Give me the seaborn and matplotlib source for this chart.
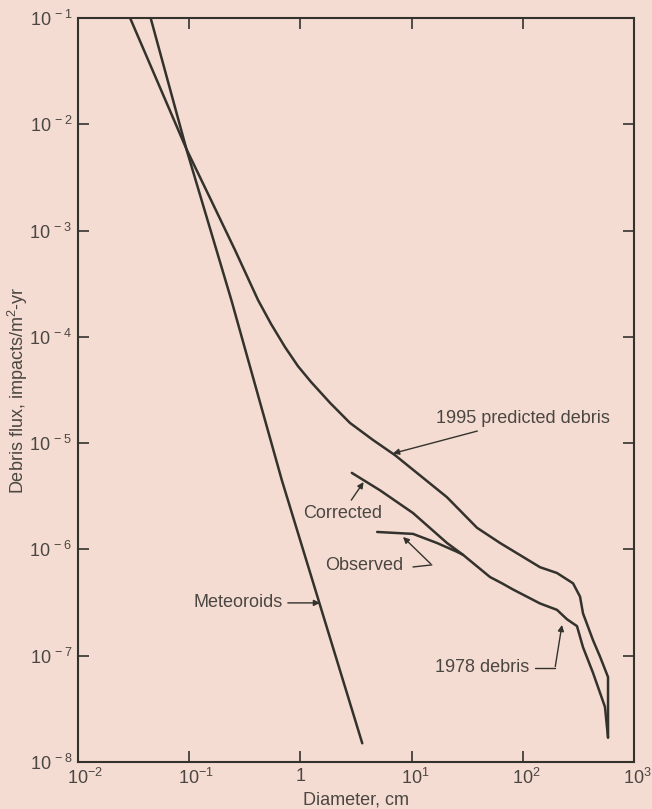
import matplotlib.pyplot as plt
import seaborn as sns
import pandas as pd
from matplotlib.ticker import NullLocator
from matplotlib.transforms import ScaledTranslation

# Values (diameter in cm, flux in impacts/m^2-yr)
meteoroid_d = [0.045, 0.095, 0.24, 0.68, 3.6]
meteoroid_flux = [1e-1, 5.7e-3, 2.2e-4, 4.5e-6, 1.5e-8]

predicted_1995_d = [0.0294, 0.0955, 0.157, 0.258, 0.416, 0.545, 0.728, 0.951, 1.245, 1.85, 2.79,
                    4.5, 7.1, 20.8, 38.7, 62.4, 143, 203, 283, 327, 348, 428, 495, 584, 584]
predicted_1995_flux = [1e-1, 5.7e-3, 1.94e-3, 6.57e-4, 2.22e-4, 1.32e-4, 8.0e-5, 5.3e-5, 3.77e-5,
                       2.39e-5, 1.55e-5, 1.07e-5, 7.7e-6, 3.1e-6, 1.6e-6, 1.15e-6, 6.8e-7, 6.0e-7,
                       4.8e-7, 3.6e-7, 2.5e-7, 1.4e-7, 9.8e-8, 6.3e-8, 1.7e-8]

corrected_1978_d = [2.9, 5.2, 10.3, 20.8, 29.0, 50.7, 65, 81.6, 143, 203, 250, 307, 348, 428, 548, 584]
corrected_1978_flux = [5.25e-6, 3.6e-6, 2.2e-6, 1.15e-6, 8.9e-7, 5.5e-7, 4.8e-7, 4.2e-7, 3.1e-7,
                       2.7e-7, 2.2e-7, 1.9e-7, 1.2e-7, 6.9e-8, 3.3e-8, 1.7e-8]

observed_1978_d = [4.9, 10.3, 16.9, 25.6, 29.0]
observed_1978_flux = [1.46e-6, 1.40e-6, 1.15e-6, 9.5e-7, 8.9e-7]

x_ticks = [1e-2, 1e-1, 1, 1e1, 1e2, 1e3]
x_tick_labels = ["10$^{-2}$", "10$^{-1}$", "1", "10$^{1}$", "10$^{2}$", "10$^{3}$"]
y_ticks = [1e-8, 1e-7, 1e-6, 1e-5, 1e-4, 1e-3, 1e-2, 1e-1]
y_tick_labels = ["10$^{\\,-8}$", "10$^{\\,-7}$", "10$^{\\,-6}$", "10$^{\\,-5}$",
                 "10$^{\\,-4}$", "10$^{\\,-3}$", "10$^{\\,-2}$", "10$^{\\,-1}$"]

paper = "#f5dcd2"
ink = "#33322d"
text_ink = "#4a4641"
fs = 13

sns.set_theme(style="ticks")
plt.rcParams["font.family"] = ["Liberation Sans", "DejaVu Sans"]
plt.rcParams["mathtext.default"] = "regular"

fig = plt.figure(figsize=(6.52, 8.09), dpi=100, facecolor=paper)
ax = fig.add_axes([78 / 652, 1 - 762 / 809, 556 / 652, 744 / 809], facecolor=paper)

curves = [
    (meteoroid_d, meteoroid_flux),
    (predicted_1995_d, predicted_1995_flux),
    (corrected_1978_d, corrected_1978_flux),
    (observed_1978_d, observed_1978_flux),
]
for d, flux in curves:
    df = pd.DataFrame({"d": d, "flux": flux})
    sns.lineplot(data=df, x="d", y="flux", ax=ax, estimator=None, sort=False,
                 color=ink, lw=1.8)

ax.set(xscale="log", yscale="log", xlim=(1e-2, 1e3), ylim=(1e-8, 1e-1))
ax.set_xticks(x_ticks)
ax.set_xticklabels(x_tick_labels)
ax.set_yticks(y_ticks)
ax.set_yticklabels(y_tick_labels)
ax.xaxis.set_minor_locator(NullLocator())
ax.yaxis.set_minor_locator(NullLocator())
ax.tick_params(which="major", direction="in", length=8, width=1.2, color=ink,
               top=True, right=True, labelsize=fs, labelcolor=text_ink, pad=4)
# the "10" of each x label sits over its tick, exponent hangs to the right
shift = ScaledTranslation(-0.11, 0, fig.dpi_scale_trans)
for lab, txt in zip(ax.get_xticklabels(), x_tick_labels):
    if txt != "1":
        lab.set_ha("left")
        lab.set_transform(lab.get_transform() + shift)
for s in ax.spines.values():
    s.set_visible(True)
    s.set_linewidth(1.5)
    s.set_color(ink)

ax.set_xlabel("Diameter, cm", fontsize=fs, color=text_ink, labelpad=3)
ax.set_ylabel("Debris flux, impacts/m$^2$-yr", fontsize=fs, color=text_ink)
ax.yaxis.set_label_coords(-0.086, 0.5)

arrow = dict(arrowstyle="-|>", color=ink, lw=1.0, mutation_scale=9, shrinkA=1, shrinkB=0)
ann = dict(fontsize=fs, color=text_ink, va="center")

ax.annotate("1995 predicted debris", xy=(6.8, 8.0e-6), xytext=(16.6, 1.69e-5),
            ha="left", arrowprops=arrow, **ann)
ax.annotate("Corrected", xy=(3.7, 4.3e-6), xytext=(1.055, 2.2e-6),
            ha="left", arrowprops=arrow, **ann)
ax.text(1.66, 7.0e-7, "Observed", ha="left", **ann)
ax.plot([10.3, 15.2], [6.84e-7, 7.15e-7], color=ink, lw=1.0)
ax.annotate("", xy=(8.37, 1.31e-6), xytext=(15.2, 7.15e-7), arrowprops=arrow)
ax.annotate("Meteoroids", xy=(1.5, 3.14e-7), xytext=(0.70, 3.14e-7),
            ha="right", arrowprops=arrow, **ann)
ax.text(16.2, 7.67e-8, "1978 debris", ha="left", **ann)
ax.plot([129, 195], [7.67e-8, 7.67e-8], color=ink, lw=1.0)
ax.annotate("", xy=(225, 1.95e-7), xytext=(195, 7.67e-8), arrowprops=arrow)

fig.savefig("out.png", dpi=100, facecolor=paper)
